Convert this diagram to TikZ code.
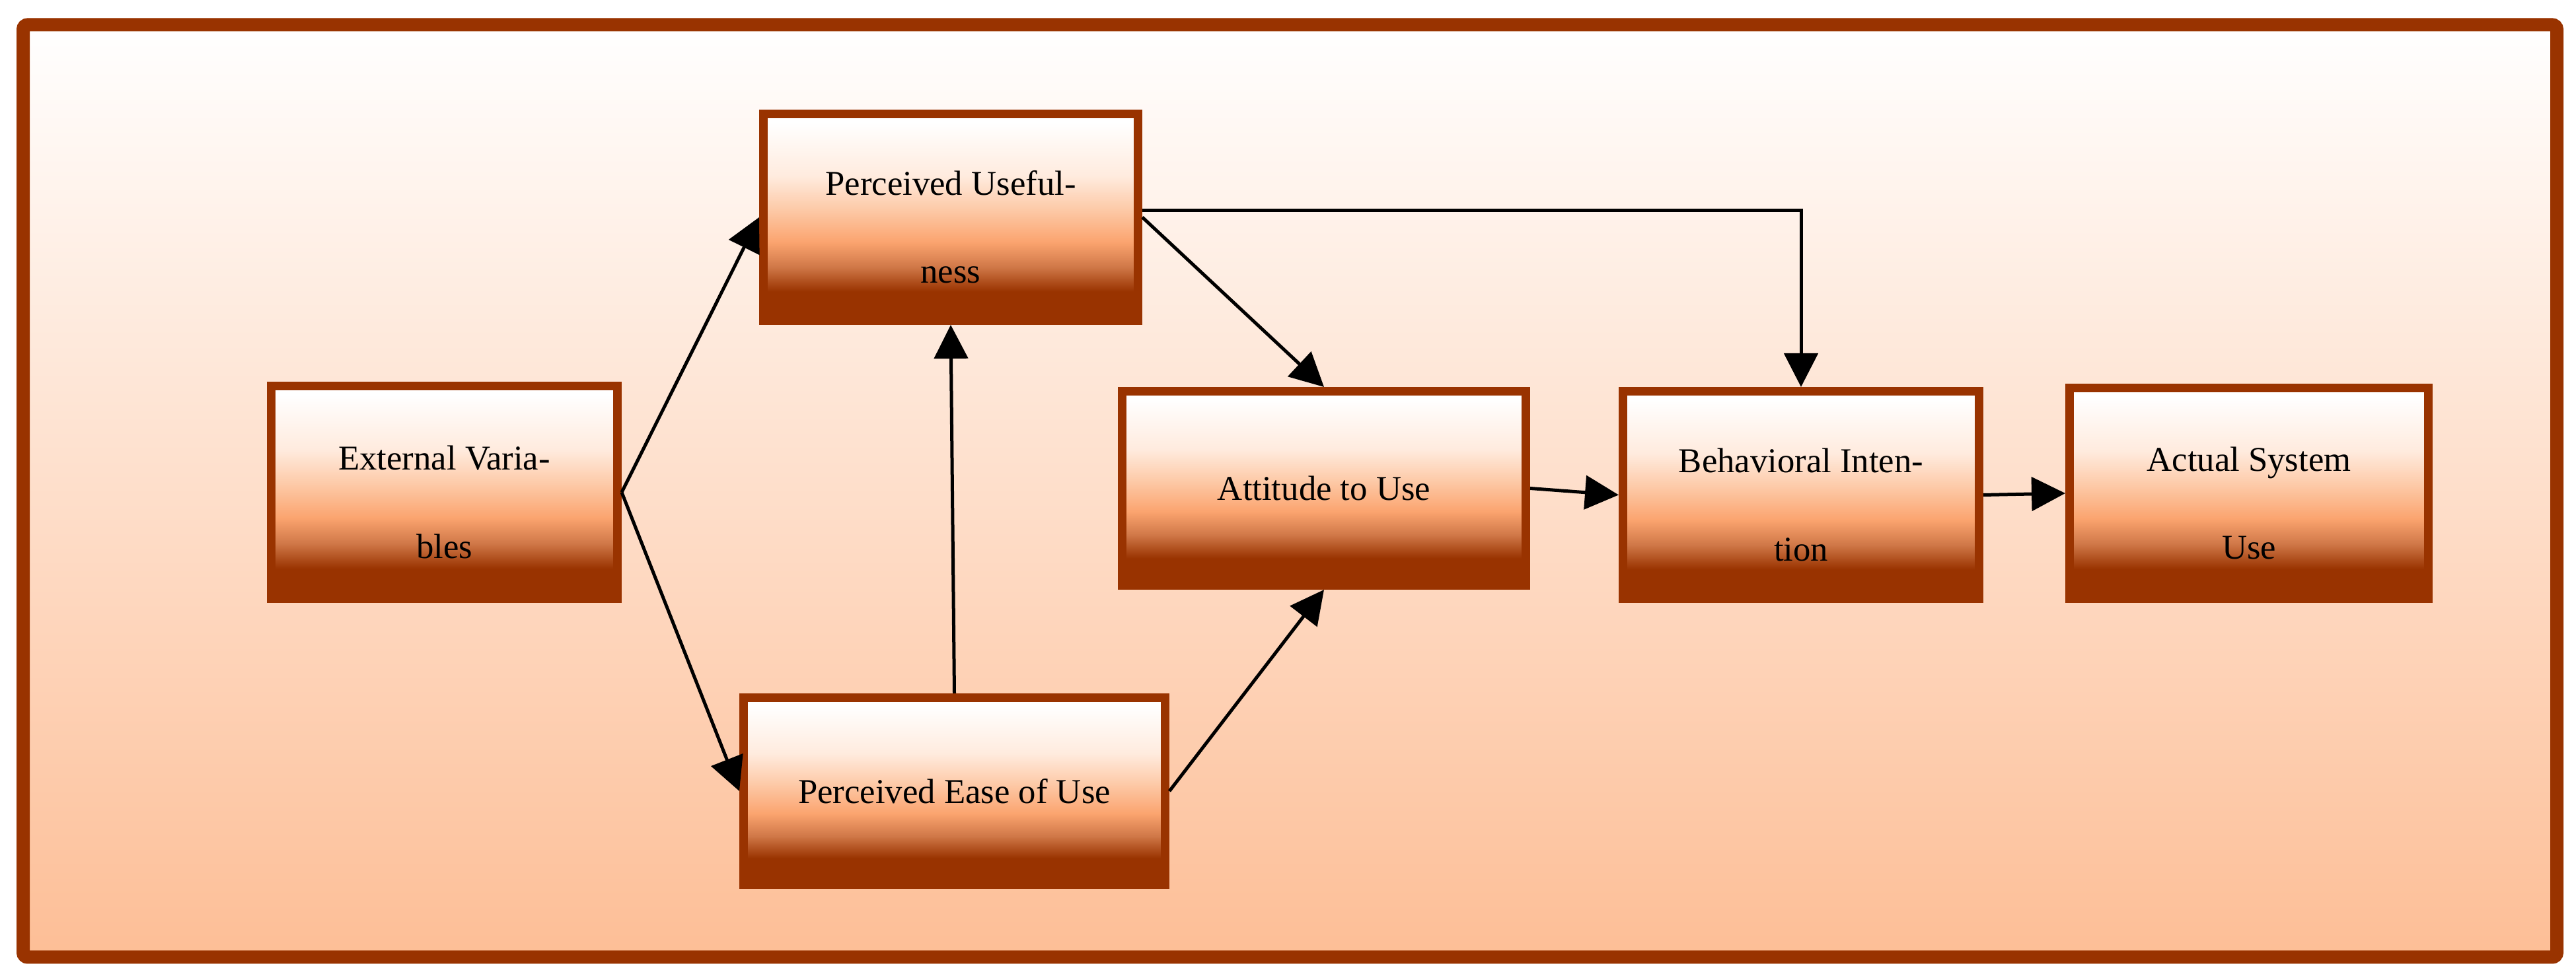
\documentclass[tikz,border=0pt]{standalone}
\usepackage{fontspec}
\setmainfont{Liberation Serif}
\usetikzlibrary{arrows.meta}

\definecolor{tambrown}{RGB}{153,51,0}
\definecolor{tamdark}{RGB}{208,120,72}
\definecolor{tamorange}{RGB}{251,164,111}
\definecolor{tampeach}{RGB}{253,202,168}
\definecolor{tamlight}{RGB}{255,235,222}
\definecolor{tamback}{RGB}{253,190,150}
\definecolor{tammid}{RGB}{253,216,192}

\pgfdeclareverticalshading{tamshade}{100bp}{color(0bp)=(tambrown); color(25bp)=(tambrown); color(32bp)=(tambrown); color(38bp)=(tamdark); color(44bp)=(tamorange); color(52bp)=(tampeach); color(60bp)=(tamlight); color(73bp)=(white); color(100bp)=(white)}

\begin{document}
\begin{tikzpicture}[
  tambox/.style={draw=tambrown, line width=0.13cm, shade, shading=tamshade, inner sep=0pt, align=center, font=\fontsize{15}{38}\selectfont},
  twoline/.style={text height=2cm, text depth=0pt},
  link/.style={line width=0.05cm, -{Triangle[length=0.51cm,width=0.51cm]}}
]
\useasboundingbox (0,0) rectangle (38.99,14.81);
% frame
\draw [tambrown, line width=0.2cm, rounded corners=2pt, top color=white, middle color=tammid, bottom color=tamback] (0.35,0.315) rectangle (38.70,14.435);

% boxes
\node [tambox, twoline, minimum width=5.24cm, minimum height=3.22cm] (ev) at (6.725,7.355) {External Varia-\\bles};
\node [tambox, twoline, minimum width=5.67cm, minimum height=3.13cm] (pu) at (14.39,11.52) {Perceived Useful-\\ness};
\node [tambox, minimum width=6.38cm, minimum height=2.83cm] (pe) at (14.445,2.83) {Perceived Ease of Use};
\node [tambox, minimum width=6.11cm, minimum height=2.94cm] (atu) at (20.04,7.415) {Attitude to Use};
\node [tambox, twoline, minimum width=5.39cm, minimum height=3.14cm] (bi) at (27.26,7.315) {Behavioral Inten-\\tion};
\node [tambox, twoline, minimum width=5.43cm, minimum height=3.19cm] (asu) at (34.04,7.34) {Actual System\\Use};

% links
\draw [link] (ev.east) -- (pu.west);
\draw [link] (ev.east) -- (pe.west);
\draw [link] (pe.north) -- (pu.south);
\draw [link] (pu.east) -- (atu.north);
\draw [link] (pe.east) -- (atu.south);
\draw [link] ([yshift=1mm]pu.east) -| (bi.north);
\draw [link] (atu.east) -- (bi.west);
\draw [link] (bi.east) -- (asu.west);
\end{tikzpicture}
\end{document}
